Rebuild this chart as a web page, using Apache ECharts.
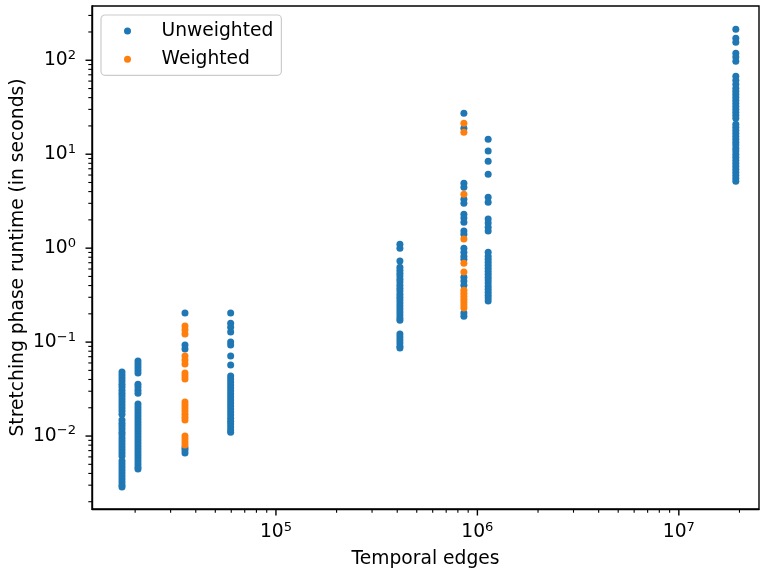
<!DOCTYPE html>
<html>
<head>
<meta charset="utf-8">
<script src="https://cdn.jsdelivr.net/npm/echarts@6/dist/echarts.min.js"></script>
<style>html,body{margin:0;padding:0;background:#fff}#c{width:760px;height:571px}</style>
</head>
<body>
<div id="c"></div>
<script>
// Temporal edge counts of each graph (x positions of the columns)
const edgeCounts = [17210, 20660, 35360, 59600, 412500, 857000, 1131000, 19180000];

// Unweighted runtimes (seconds), one list per column
const unweighted0 = [0.0480,0.0446,0.0414,0.0385,0.0357,0.0332,0.0308,0.0286,0.0267,0.0248,0.0230,0.0214,0.0199,0.0185,0.0171,0.0148,0.0137,0.0128,0.0119,0.0110,0.0103,0.00953,0.00885,0.00822,0.00764,0.00710,0.00659,0.00612,0.00542,0.00504,0.00468,0.00435,0.00404,0.00375,0.00349,0.00324,0.00301,0.00286];
const unweighted1 = [0.0628,0.0583,0.0542,0.0504,0.0468,0.0357,0.0332,0.0308,0.0286,0.0219,0.0204,0.0189,0.0176,0.0163,0.0152,0.0141,0.0131,0.0122,0.0113,0.0105,0.00976,0.00906,0.00843,0.00783,0.00728,0.00676,0.00628,0.00583,0.00542,0.00504,0.00468,0.00446];
const unweighted2 = [0.204,0.0929,0.0843,0.0075,0.00710,0.00659];
const unweighted3 = [0.204,0.159,0.144,0.128,0.100,0.0929,0.0710,0.0569,0.0435,0.0404,0.0375,0.0349,0.0324,0.0301,0.0280,0.0260,0.0242,0.0225,0.0209,0.0194,0.0180,0.0167,0.0155,0.0144,0.0134,0.0125,0.0116,0.0110];
const unweighted4 = [1.10,1.00,0.728,0.628,0.583,0.542,0.504,0.468,0.435,0.404,0.375,0.349,0.324,0.301,0.280,0.260,0.242,0.225,0.209,0.194,0.180,0.171,0.122,0.113,0.105,0.0976,0.0906,0.0863];
const unweighted5 = [27.3,18.9,4.91,4.46,3.32,3.01,2.30,2.09,1.89,1.52,1.41,1.00,0.906,0.822,0.764,0.491,0.446,0.404,0.204,0.189];
const unweighted6 = [14.4,10.8,8.43,6.12,3.49,3.08,2.04,1.85,1.67,1.52,0.906,0.822,0.764,0.710,0.659,0.612,0.569,0.529,0.491,0.457,0.425,0.394,0.366,0.340,0.316,0.294,0.273];
const unweighted7 = [214,171,155,119,108,97.6,67.6,61.3,55.5,50.4,46.8,43.5,40.4,37.5,34.9,32.4,30.1,28.0,26.0,24.2,20.9,19.4,18.0,16.7,15.5,14.4,13.4,12.5,11.6,10.8,10.0,9.29,8.63,8.02,7.45,6.92,6.44,5.98,5.55,5.16];
const unweightedRuntimes = [unweighted0, unweighted1, unweighted2, unweighted3, unweighted4, unweighted5, unweighted6, unweighted7];

// Weighted runtimes (seconds): only two graphs
const weightedColumns = [2, 5];
const weighted2 = [0.148,0.135,0.122,0.0710,0.0644,0.0583,0.0468,0.0435,0.0404,0.0230,0.0214,0.0199,0.0185,0.0171,0.0159,0.0148,0.0100,0.00929,0.00863,0.00802];
const weighted5 = [21.4,17.1,3.75,1.25,0.692,0.556,0.357,0.332,0.308,0.286,0.267,0.248,0.230];
const weightedRuntimes = [weighted2, weighted5];

// Axis ticks
const xMajorTicks = [1e5, 1e6, 1e7];
const xMinorTicks = [2e4,3e4,4e4,5e4,6e4,7e4,8e4,9e4,2e5,3e5,4e5,5e5,6e5,7e5,8e5,9e5,2e6,3e6,4e6,5e6,6e6,7e6,8e6,9e6,2e7];
const yMajorTicks = [0.01, 0.1, 1, 10, 100];
const yMinorTicks = [0.002,0.003,0.004,0.005,0.006,0.007,0.008,0.009,0.02,0.03,0.04,0.05,0.06,0.07,0.08,0.09,0.2,0.3,0.4,0.5,0.6,0.7,0.8,0.9,2,3,4,5,6,7,8,9,20,30,40,50,60,70,80,90,200,300];

const X_MIN = 12215, X_MAX = 2.5e7, Y_MIN = 0.001673, Y_MAX = 378;

const unweightedData = [];
unweightedRuntimes.forEach((arr, i) => arr.forEach(v => unweightedData.push([edgeCounts[i], v])));
const weightedData = [];
weightedRuntimes.forEach((arr, k) => arr.forEach(v => weightedData.push([edgeCounts[weightedColumns[k]], v])));

const tickData = [];
xMajorTicks.forEach(v => tickData.push([v, Y_MIN, 0, 1]));
xMinorTicks.forEach(v => tickData.push([v, Y_MIN, 0, 0]));
yMajorTicks.forEach(v => tickData.push([X_MIN, v, 1, 1]));
yMinorTicks.forEach(v => tickData.push([X_MIN, v, 1, 0]));

const FONT = 'DejaVu Sans';
const FS = 18.7;
function isPow10(v) { const l = Math.log10(v); return Math.abs(l - Math.round(l)) < 1e-6; }
function powLabel(v) {
  if (!isPow10(v)) return '';
  const e = Math.round(Math.log10(v));
  return '{b|10}{s|' + (e < 0 ? '\u2212' + (-e) : e) + '}';
}
const richLbl = {
  b: { fontFamily: FONT, fontSize: FS, color: '#000' },
  s: { fontFamily: FONT, fontSize: 13.1, color: '#000', padding: [0, 0, 10, 0] }
};

const chart = echarts.init(document.getElementById('c'), null, { renderer: 'canvas' });
chart.setOption({
  animation: false,
  backgroundColor: '#fff',
  textStyle: { fontFamily: FONT },
  grid: { left: 92, right: 1, top: 6, bottom: 62, containLabel: false, outerBoundsMode: 'none',
          show: true, borderColor: '#000', borderWidth: 1.4, backgroundColor: 'transparent' },
  legend: {
    data: ['Unweighted', 'Weighted'],
    orient: 'vertical', left: 101, top: 15,
    padding: [6.5, 8, 6.5, 23],
    itemWidth: 30, itemHeight: 7, itemGap: 9.3,
    icon: 'circle',
    backgroundColor: 'rgba(255,255,255,0.8)', borderColor: '#cccccc', borderWidth: 1.2, borderRadius: 4,
    textStyle: { fontFamily: FONT, fontSize: FS, color: '#000', padding: [0, 0, 0, 14] }
  },
  xAxis: {
    type: 'log', min: X_MIN, max: X_MAX,
    name: 'Temporal edges', nameLocation: 'middle', nameGap: 41, nameMoveOverlap: false,
    nameTextStyle: { fontFamily: FONT, fontSize: FS, color: '#000' },
    axisLine: { show: true, lineStyle: { color: '#000', width: 1.4 } },
    axisTick: { show: false }, splitLine: { show: false }, minorTick: { show: false },
    axisLabel: { interval: 0, margin: 12, formatter: powLabel, rich: richLbl }
  },
  yAxis: {
    type: 'log', min: Y_MIN, max: Y_MAX,
    name: 'Stretching phase runtime (in seconds)', nameLocation: 'middle', nameGap: 64, nameMoveOverlap: false,
    nameTextStyle: { fontFamily: FONT, fontSize: FS, color: '#000' },
    axisLine: { show: true, lineStyle: { color: '#000', width: 1.4 } },
    axisTick: { show: false }, splitLine: { show: false }, minorTick: { show: false },
    axisLabel: { interval: 0, margin: 16, formatter: powLabel, rich: richLbl }
  },
  series: [
    { name: 'Unweighted', type: 'scatter', data: unweightedData, symbolSize: 7,
      itemStyle: { color: '#1f77b4', opacity: 1 }, z: 3 },
    { name: 'Weighted', type: 'scatter', data: weightedData, symbolSize: 7,
      itemStyle: { color: '#ff7f0e', opacity: 1 }, z: 4 },
    { name: 'ticks', type: 'custom', silent: true, clip: false, z: 5, data: tickData,
      renderItem: function (params, api) {
        const p = api.coord([api.value(0), api.value(1)]);
        const len = api.value(3) ? 6.5 : 3.7;
        const shape = api.value(2) === 0
          ? { x1: p[0], y1: p[1], x2: p[0], y2: p[1] + len }
          : { x1: p[0], y1: p[1], x2: p[0] - len, y2: p[1] };
        return { type: 'line', shape: shape, style: { stroke: '#000', lineWidth: api.value(3) ? 1.4 : 1.1 } };
      }
    }
  ]
});
</script>
</body>
</html>
